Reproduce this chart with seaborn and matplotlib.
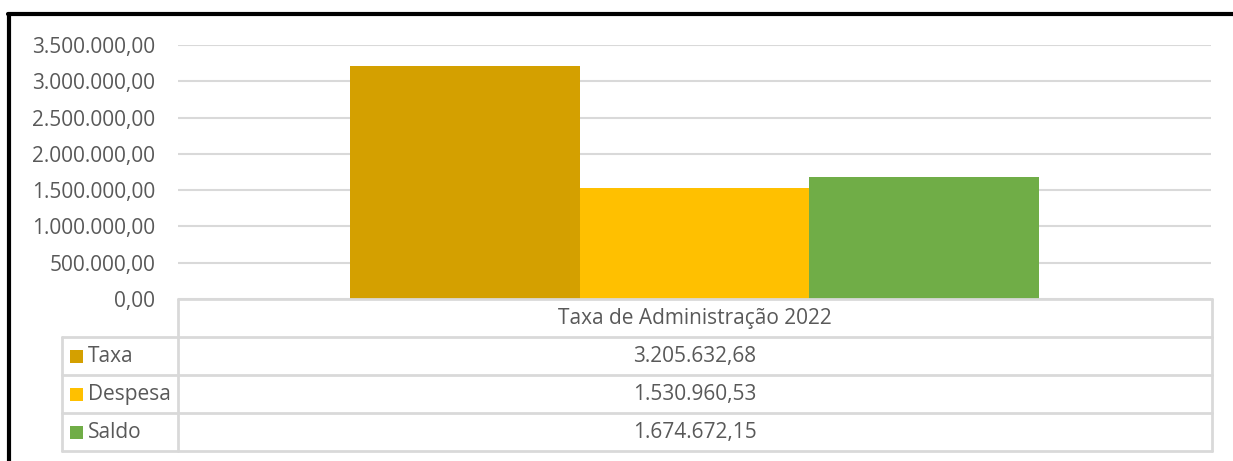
import matplotlib
matplotlib.use("Agg")
import matplotlib.pyplot as plt
import seaborn as sns
import pandas as pd
from matplotlib.lines import Line2D
from matplotlib.patches import Rectangle
from matplotlib.ticker import FuncFormatter

# ---- data ----
categories = ["Taxa de Administração 2022"]
series = ["Taxa", "Despesa", "Saldo"]
values = [3205632.68, 1530960.53, 1674672.15]
colors = ["#D4A000", "#FFC000", "#70AD47"]
yticks = [0, 500000, 1000000, 1500000, 2000000, 2500000, 3000000, 3500000]

def br(v):
    s = f"{v:,.2f}"
    return s.replace(",", "X").replace(".", ",").replace("X", ".")

df = pd.DataFrame({"cat": categories * len(series), "serie": series, "valor": values})

sns.set_theme(style="white")
plt.rcParams["font.family"] = ["Open Sans", "DejaVu Sans"]
TXT = "#595959"
GRID = "#D9D9D9"
FS = 15

W, H = 1233, 461
fig = plt.figure(figsize=(W / 100, H / 100), dpi=100)

def fx(px):
    return px / W

def fy(py):
    return 1 - py / H

# main plot axes (pixel layout)
x0, x1, ytop, ybot = 178, 1211, 45, 299
ax = fig.add_axes([fx(x0), fy(ybot), fx(x1) - fx(x0), fy(ytop) - fy(ybot)])
sns.barplot(data=df, x="cat", y="valor", hue="serie", hue_order=series,
            palette=colors, width=2 / 3, saturation=1, ax=ax, legend=False,
            linewidth=0, gap=0)
ax.set_xlim(-0.5, 0.5)
ax.set_ylim(0, 3500000)
ax.set_yticks(yticks)
ax.yaxis.set_major_formatter(FuncFormatter(lambda v, p: br(v)))
ax.tick_params(axis="y", length=0, pad=16.5, labelsize=FS, labelcolor=TXT)
ax.set_xticks([])
ax.set_xlabel("")
ax.set_ylabel("")
for s in ax.spines.values():
    s.set_visible(False)
ax.grid(axis="y", color=GRID, linewidth=1.5)
ax.set_axisbelow(True)

# overlay axes for the data table and frame, in pixel coordinates
ov = fig.add_axes([0, 0, 1, 1], zorder=5)
ov.set_xlim(0, W)
ov.set_ylim(H, 0)
ov.axis("off")
ov.patch.set_alpha(0)

lw = 2.0
tl, tr = 62, 1212
rows = [299, 337, 375, 413, 451]
ov.add_line(Line2D([x0, tr], [rows[0], rows[0]], color=GRID, lw=lw))
for yy in rows[1:]:
    ov.add_line(Line2D([tl, tr], [yy, yy], color=GRID, lw=lw))
ov.add_line(Line2D([x0, x0], [rows[0], rows[-1]], color=GRID, lw=lw))
ov.add_line(Line2D([tr, tr], [rows[0], rows[-1]], color=GRID, lw=lw))
ov.add_line(Line2D([tl, tl], [rows[1], rows[-1]], color=GRID, lw=lw))

cx = (x0 + tr) / 2
ov.text(cx, (rows[0] + rows[1]) / 2, categories[0], ha="center", va="center",
        fontsize=FS, color=TXT)
for i, (name, val, col) in enumerate(zip(series, values, colors)):
    yc = (rows[i + 1] + rows[i + 2]) / 2
    ov.add_patch(Rectangle((70, yc - 6.5), 13, 13, color=col, lw=0))
    ov.text(88, yc, name, ha="left", va="center", fontsize=FS, color=TXT)
    ov.text(cx, yc, br(val), ha="center", va="center", fontsize=FS, color=TXT)

# black outer frame (left and top visible)
ov.add_line(Line2D([9, 9], [14.5, H], color="black", lw=3))
ov.add_line(Line2D([7.5, W], [14.5, 14.5], color="black", lw=3))

fig.savefig("out.png", dpi=100, facecolor="white")
